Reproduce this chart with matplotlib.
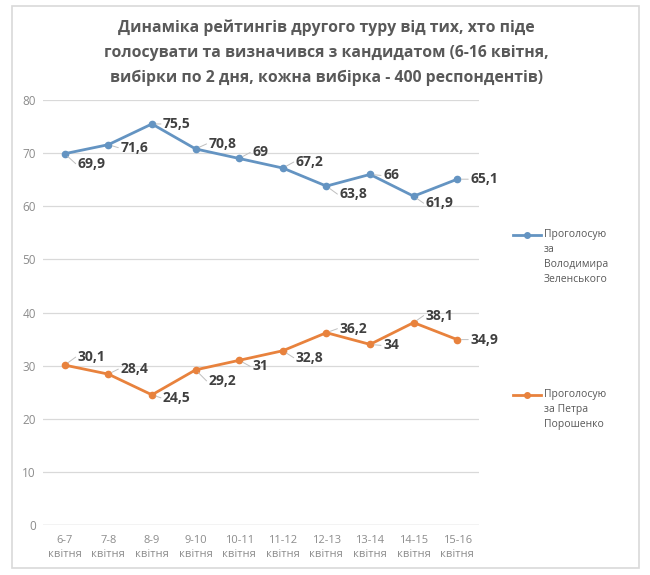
import matplotlib.pyplot as plt
from matplotlib.lines import Line2D
from matplotlib.patches import Rectangle

# дані
periods = ['6-7', '7-8', '8-9', '9-10', '10-11', '11-12', '12-13', '13-14', '14-15', '15-16']
zelensky = [69.9, 71.6, 75.5, 70.8, 69, 67.2, 63.8, 66, 61.9, 65.1]
poroshenko = [30.1, 28.4, 24.5, 29.2, 31, 32.8, 36.2, 34, 38.1, 34.9]
legend_labels = ['Проголосую\nза\nВолодимира\nЗеленського', 'Проголосую\nза Петра\nПорошенко']

# зсуви підписів (пікселі)
z_off = [(13, -10), (12, -3), (11, 0), (13, 5), (13, 6), (13, 6), (13, -8), (13, -1), (12, -7), (13, 0)]
p_off = [(13, 8), (12, 5), (11, -3), (13, -11), (13, -6), (13, -7), (13, 4), (13, -1), (12, 7), (13, 0)]

plt.rcParams['font.family'] = ['Open Sans', 'DejaVu Sans']

blue = '#6494C2'
orange = '#E8823D'
dark = '#404040'
grey = '#8c8c8c'

fig = plt.figure(figsize=(6.5, 5.75), dpi=100)
ax = fig.add_axes([0.066, 0.087, 0.671, 0.739])

x = range(len(periods))
ax.plot(x, zelensky, color=blue, lw=2, marker='o', ms=4.5, zorder=3)
ax.plot(x, poroshenko, color=orange, lw=2, marker='o', ms=4.5, zorder=3)

for i in x:
    for vals, offs in ((zelensky, z_off), (poroshenko, p_off)):
        v = vals[i]
        dx, dy = offs[i]
        txt = str(v).replace('.', ',')
        if txt.endswith(',0'):
            txt = txt[:-2]
        ax.annotate(txt, (i, v), xytext=(dx * 0.72, dy * 0.72), textcoords='offset points',
                    ha='left', va='center', fontsize=10, fontweight='bold', color=dark)
        # лінія-виноска
        ax.annotate('', (i, v), xytext=((dx - 2) * 0.72, dy * 0.72), textcoords='offset points',
                    arrowprops=dict(arrowstyle='-', color='#bfbfbf', lw=0.7,
                                    shrinkA=0, shrinkB=3))

ax.set_xlim(-0.5, len(periods) - 0.5)
ax.set_ylim(0, 80)
ax.set_yticks(range(0, 81, 10))
ax.set_xticks(list(x))
ax.set_xticklabels([p + '\nквітня' for p in periods], fontsize=8, color=grey, linespacing=1.45)
ax.tick_params(axis='y', labelsize=8.5, colors=grey, length=0, pad=5)
ax.tick_params(axis='x', length=0, pad=7)
ax.grid(axis='y', color='#d9d9d9', lw=0.9)
ax.set_axisbelow(True)
for s in ax.spines.values():
    s.set_visible(False)
ax.axhline(0, color='#d9d9d9', lw=1)

fig.text(0.502, 0.966, 'Динаміка рейтингів другого туру від тих, хто піде\n'
         'голосувати та визначився з кандидатом (6-16 квітня,\n'
         'вибірки по 2 дня, кожна вибірка - 400 респондентів)',
         ha='center', va='top', fontsize=11.3, fontweight='bold', color='#595959', linespacing=1.72)

# легенда: маркер на рівні першого рядка
for lab, col, ytop in zip(legend_labels, [blue, orange], [235, 395]):
    yf = 1 - ytop / 575
    fig.add_artist(Line2D([513 / 650, 541 / 650], [yf, yf], color=col, lw=2))
    fig.add_artist(Line2D([527 / 650], [yf], color=col, marker='o', ms=4))
    fig.text(544 / 650, yf + 6 / 575, lab, ha='left', va='top', fontsize=7.5,
             color='#595959', linespacing=1.52)

fig.patches.append(Rectangle((0.018, 0.012), 0.965, 0.978, transform=fig.transFigure,
                             fill=False, ec='#d9d9d9', lw=1.2))

fig.savefig('out.png', dpi=100, facecolor='white')
